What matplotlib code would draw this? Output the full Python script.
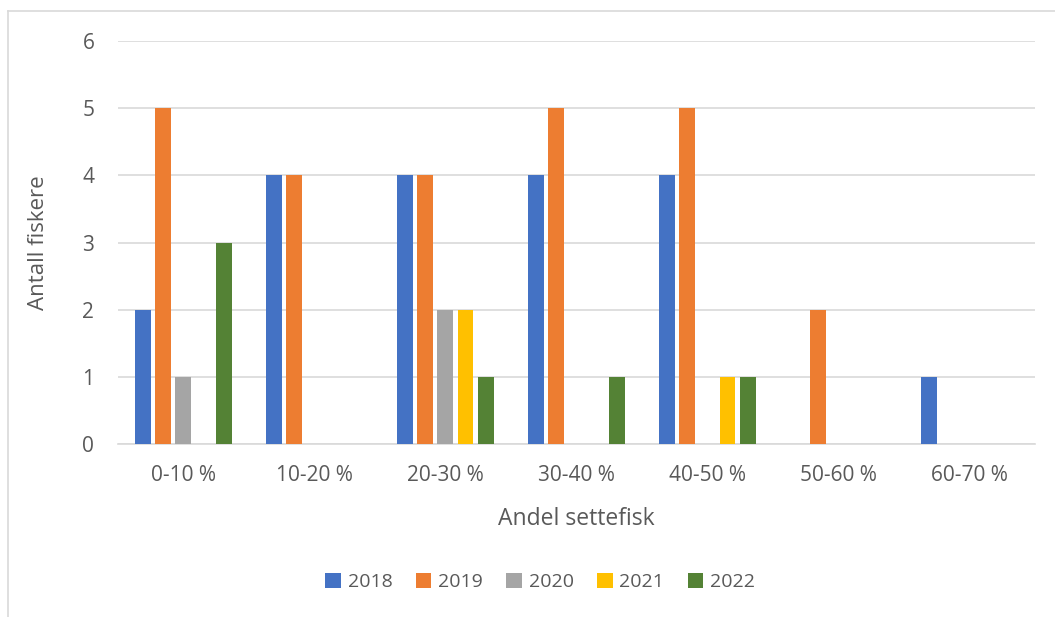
import numpy as np
from matplotlib import pyplot as plt
from matplotlib.lines import Line2D

categories = ["0-10 %", "10-20 %", "20-30 %", "30-40 %", "40-50 %", "50-60 %", "60-70 %"]
years = ["2018", "2019", "2020", "2021", "2022"]
v2018 = [2, 4, 4, 4, 4, 0, 1]
v2019 = [5, 4, 4, 5, 5, 2, 0]
v2020 = [1, 0, 2, 0, 0, 0, 0]
v2021 = [0, 0, 2, 0, 1, 0, 0]
v2022 = [3, 0, 1, 1, 1, 0, 0]
series = [v2018, v2019, v2020, v2021, v2022]
colors = ["#4472C4", "#ED7D31", "#A5A5A5", "#FFC000", "#548235"]

plt.rcParams["font.family"] = ["Open Sans", "DejaVu Sans"]
txt = "#595959"

fig = plt.figure(figsize=(10.55, 6.17), dpi=100)
ax = fig.add_axes([0.1118, 0.2804, 0.981 - 0.1118, 0.9335 - 0.2804])

x = np.arange(len(categories))
step = 0.153
width = 0.122
for i, (vals, c, yr) in enumerate(zip(series, colors, years)):
    ax.bar(x + (i - 2) * step, vals, width, color=c, label=yr, zorder=3)

ax.set_xlim(-0.5, len(categories) - 0.5)
ax.set_ylim(0, 6)
ax.set_yticks(range(7))
ax.set_xticks(x)
ax.set_xticklabels(categories)
ax.yaxis.grid(True, color="#D9D9D9", lw=1.2, zorder=0)
for s in ["top", "right", "left"]:
    ax.spines[s].set_visible(False)
ax.spines["bottom"].set_color("#D9D9D9")
ax.spines["bottom"].set_linewidth(1.2)
ax.tick_params(axis="both", length=0, labelsize=15, colors=txt)
ax.tick_params(axis="y", pad=17)
ax.tick_params(axis="x", pad=15)
ax.set_ylabel("Antall fiskere", fontsize=16, color=txt, labelpad=24)
ax.set_xlabel("Andel settefisk", fontsize=16.5, color=txt, labelpad=15)

fig.legend(loc="center", bbox_to_anchor=(0.512, 1 - 582 / 617), ncol=5, frameon=False,
           fontsize=14, labelcolor=txt, handlelength=0.8, handleheight=0.8,
           columnspacing=1.2, handletextpad=0.35)

# chart border (top and left visible)
fig.add_artist(Line2D([8 / 1055, 1], [1 - 11 / 617, 1 - 11 / 617], color="#D9D9D9", lw=1.2))
fig.add_artist(Line2D([8 / 1055, 8 / 1055], [0, 1 - 11 / 617], color="#D9D9D9", lw=1.2))

fig.savefig("out.png", dpi=100)
